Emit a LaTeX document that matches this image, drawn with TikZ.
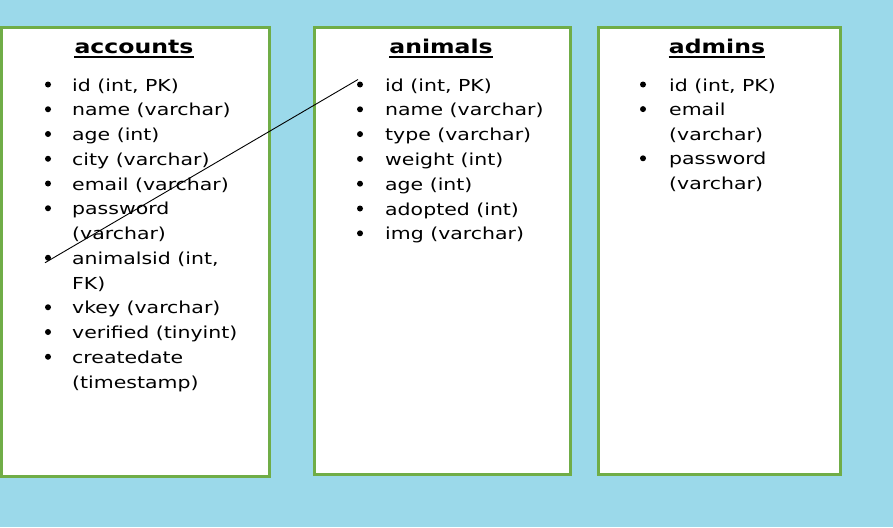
\documentclass[tikz,border=0pt]{standalone}
\usepackage{fontspec}
\setmainfont{DejaVu Sans}[FakeStretch=1.24]
\definecolor{bgblue}{HTML}{9BD9EA}
\definecolor{boxgreen}{HTML}{70AD47}
\begin{document}
\begin{tikzpicture}[x=1pt,y=-1pt,
  tbl/.style={draw=boxgreen, line width=3pt, fill=white},
  ttl/.style={font=\bfseries\fontsize{19}{19}\selectfont, anchor=base, inner sep=0pt},
  fld/.style={font=\fontsize{16.5}{16.5}\selectfont, anchor=base west, inner sep=0pt},
  dotb/.style={circle, fill=black, inner sep=0pt, minimum size=6pt},
  uline/.style={line width=2pt},
  link/.style={line width=0.9pt, black}]
\fill[bgblue] (0,0) rectangle (893,527);
\useasboundingbox (0,0) rectangle (893,527);
% boxes
\draw[tbl] (1,28) rectangle (269,476);
\draw[tbl] (314,28) rectangle (570,474);
\draw[tbl] (598,28) rectangle (840,474);
% titles
\node[ttl] (acc-title) at (134,54) {accounts};
\node[ttl] (ani-title) at (441,54) {animals};
\node[ttl] (adm-title) at (717,54) {admins};
\foreach \n in {acc-title,ani-title,adm-title}
  \draw[uline] ([yshift=-3.5pt]\n.base west) -- ([yshift=-3.5pt]\n.base east);
% accounts fields
\foreach \k/\t in {0/{id (int, PK)},1/{name (varchar)},2/{age (int)},3/{city (varchar)},4/{email (varchar)},5/{password},6/{(varchar)},7/{animalsid (int,},8/{FK)},9/{vkey (varchar)},10/{verified (tinyint)},11/{createdate},12/{(timestamp)}}
  \node[fld] (acc-t\k) at (72,{91+24.75*\k}) {\t};
\foreach \k in {0,1,2,3,4,5,7,9,10,11}
  \node[dotb] (acc-b\k) at (48,{91+24.75*\k-6.5}) {};
% animals fields
\foreach \k/\t in {0/{id (int, PK)},1/{name (varchar)},2/{type (varchar)},3/{weight (int)},4/{age (int)},5/{adopted (int)},6/{img (varchar)}}
  \node[fld] (ani-t\k) at (385,{91+24.8*\k}) {\t};
\foreach \k in {0,...,6}
  \node[dotb] (ani-b\k) at (360,{91+24.8*\k-6.5}) {};
% admins fields
\foreach \k/\t in {0/{id (int, PK)},1/{email},2/{(varchar)},3/{password},4/{(varchar)}}
  \node[fld] (adm-t\k) at (669,{91+24.6*\k}) {\t};
\foreach \k in {0,1,3}
  \node[dotb] (adm-b\k) at (643,{91+24.6*\k-6.5}) {};
% relation
\draw[link] ([shift={(-3,5)}]acc-b7.center) -- ([shift={(-2,-5)}]ani-b0.center);
\end{tikzpicture}
\end{document}
